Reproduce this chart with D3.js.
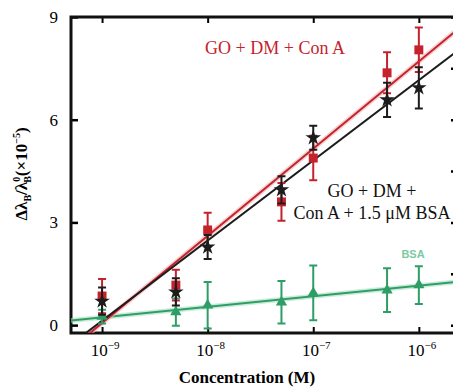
<!DOCTYPE html>
<html>
<head>
<meta charset="utf-8">
<script src="https://cdn.jsdelivr.net/npm/d3@7"></script>
<style>
  body { margin: 0; background: #fff; }
  svg { display: block; }
</style>
</head>
<body>
<div id="chart"></div>
<script>
// concentrations (M)
const conc = [1e-9, 5e-9, 1e-8, 5e-8, 1e-7, 5e-7, 1e-6];

// GO + DM + Con A
const conA = [0.85, 1.17, 2.78, 3.6, 4.88, 7.37, 8.04];
const conAErr = [0.5, 0.45, 0.5, 0.55, 0.65, 0.6, 0.65];

// GO + DM + Con A + 1.5 uM BSA
const conABsa = [0.7, 0.97, 2.28, 3.95, 5.47, 6.58, 6.93];
const conABsaErr = [0.4, 0.4, 0.35, 0.4, 0.35, 0.5, 0.6];

// BSA
const bsa = [0.25, 0.38, 0.58, 0.67, 0.94, 1.02, 1.17];
const bsaErr = [0.2, 0.4, 0.68, 0.62, 0.8, 0.64, 0.55];

const xTicks = [1e-9, 1e-8, 1e-7, 1e-6];
const xTickExp = ["\u22129", "\u22128", "\u22127", "\u22126"];
const yTicks = [0, 3, 6, 9];
const yMinor = [1.5, 4.5, 7.5];

const width = 453, height = 387;
const margin = {top: 17, right: -2, bottom: 54, left: 71};
const serif = "Liberation Serif";

const x = d3.scaleLog()
    .domain([5.08e-10, 2.2e-6])
    .range([margin.left, width - margin.right]);

const y = d3.scaleLinear()
    .domain([-0.23, 9])
    .range([height - margin.bottom, margin.top]);

const svg = d3.select("#chart").append("svg")
    .attr("width", width)
    .attr("height", height);

svg.append("defs").append("clipPath")
    .attr("id", "plot")
  .append("rect")
    .attr("x", margin.left)
    .attr("y", margin.top)
    .attr("width", x.range()[1] - margin.left)
    .attr("height", y.range()[0] - margin.top);

// minor log ticks
const minorX = [];
for (let e = -10; e <= -6; e++) {
  for (let m = 2; m <= 9; m++) {
    const v = m * Math.pow(10, e);
    if (v > x.domain()[0] && v < x.domain()[1]) minorX.push(v);
  }
}

const gx = svg.append("g")
    .attr("transform", `translate(0,${y.range()[0]})`);
gx.call(d3.axisBottom(x).tickValues(minorX).tickSize(-3).tickFormat(""));
gx.call(d3.axisBottom(x).tickValues(xTicks).tickSize(-6).tickFormat(""));
gx.selectAll(".domain").remove();
gx.selectAll("line").attr("stroke", "#000").attr("stroke-width", 2);

const gxTop = svg.append("g")
    .attr("transform", `translate(0,${margin.top})`);
gxTop.call(d3.axisTop(x).tickValues(minorX).tickSize(-3).tickFormat(""));
gxTop.call(d3.axisTop(x).tickValues(xTicks).tickSize(-6).tickFormat(""));
gxTop.selectAll(".domain").remove();
gxTop.selectAll("line").attr("stroke", "#000").attr("stroke-width", 2);

// x tick labels with superscripts
const xl = svg.append("g").selectAll("text")
  .data(xTicks)
  .join("text")
    .attr("x", d => x(d) + 3)
    .attr("y", 356)
    .attr("text-anchor", "middle")
    .attr("font-family", serif)
    .attr("font-size", 17);
xl.append("tspan").text("10");
xl.append("tspan")
    .attr("dy", -7)
    .attr("font-size", 11)
    .text((d, i) => xTickExp[i]);

const gy = svg.append("g")
    .attr("transform", `translate(${margin.left},0)`);
gy.call(d3.axisLeft(y).tickValues(yMinor).tickSize(-4).tickFormat(""));
gy.call(d3.axisLeft(y).tickValues(yTicks).tickSize(-7).tickFormat(""));
gy.selectAll(".domain").remove();
gy.selectAll("line").attr("stroke", "#000").attr("stroke-width", 2.5);

const gyR = svg.append("g")
    .attr("transform", `translate(${x.range()[1]},0)`);
gyR.call(d3.axisRight(y).tickValues(yTicks.concat(yMinor)).tickSize(-4).tickFormat(""));
gyR.selectAll(".domain").remove();
gyR.selectAll("line").attr("stroke", "#000").attr("stroke-width", 2.5);

svg.append("g").selectAll("text")
  .data(yTicks)
  .join("text")
    .attr("x", 58)
    .attr("y", d => y(d) + 6)
    .attr("text-anchor", "end")
    .attr("font-family", serif)
    .attr("font-size", 17)
    .text(d => d);

// frame
svg.append("rect")
    .attr("x", margin.left)
    .attr("y", margin.top)
    .attr("width", x.range()[1] - margin.left)
    .attr("height", y.range()[0] - margin.top)
    .attr("fill", "none")
    .attr("stroke", "#111")
    .attr("stroke-width", 3);

// least squares fit against log10(conc)
function fit(vals) {
  const u = conc.map(Math.log10);
  const mu = d3.mean(u), mv = d3.mean(vals);
  const b = d3.sum(u, (d, i) => (d - mu) * (vals[i] - mv)) / d3.sum(u, d => (d - mu) ** 2);
  const a = mv - b * mu;
  return x.domain().map(c => [c, a + b * Math.log10(c)]);
}

const line = d3.line()
    .x(d => x(d[0]))
    .y(d => y(d[1]));

const plot = svg.append("g").attr("clip-path", "url(#plot)");

const series = [
  {vals: bsa, err: bsaErr, color: "#2f9e66", halo: "#a8e0c2", sym: d3.symbolTriangle, size: 55},
  {vals: conA, err: conAErr, color: "#c4222c", halo: "#f0b4b4", sym: d3.symbolSquare, size: 80},
  {vals: conABsa, err: conABsaErr, color: "#1c1c1c", halo: null, sym: d3.symbolStar, size: 75}
];

series.forEach(s => {
  if (s.halo) {
    plot.append("path")
        .attr("d", line(fit(s.vals)))
        .attr("fill", "none")
        .attr("stroke", s.halo)
        .attr("stroke-opacity", 0.6)
        .attr("stroke-width", 5);
  }
  plot.append("path")
      .attr("d", line(fit(s.vals)))
      .attr("fill", "none")
      .attr("stroke", s.color)
      .attr("stroke-width", 2);
});

series.forEach(s => {
  const g = plot.append("g")
      .attr("stroke", s.color)
      .attr("fill", s.color);
  const pts = conc.map((c, i) => ({c, v: s.vals[i], e: s.err[i]}));
  g.selectAll(".bar")
    .data(pts)
    .join("path")
      .attr("fill", "none")
      .attr("stroke-width", 2)
      .attr("d", d => {
        const cx = x(d.c), y0 = y(d.v - d.e), y1 = y(d.v + d.e);
        return `M${cx},${y0}V${y1}M${cx - 4},${y0}H${cx + 4}M${cx - 4},${y1}H${cx + 4}`;
      });
  g.selectAll(".mark")
    .data(pts)
    .join("path")
      .attr("stroke", "none")
      .attr("transform", d => `translate(${x(d.c)},${y(d.v)})`)
      .attr("d", d3.symbol(s.sym, s.size));
});

// annotations
svg.append("text")
    .attr("x", 275)
    .attr("y", 54)
    .attr("text-anchor", "middle")
    .attr("font-family", serif)
    .attr("font-size", 18)
    .attr("fill", "#c4222c")
    .text("GO + DM + Con A");

svg.append("text")
    .attr("x", 372)
    .attr("y", 197)
    .attr("text-anchor", "middle")
    .attr("font-family", serif)
    .attr("font-size", 18)
    .attr("fill", "#111")
    .text("GO + DM +");

svg.append("text")
    .attr("x", 372)
    .attr("y", 219)
    .attr("text-anchor", "middle")
    .attr("font-family", serif)
    .attr("font-size", 18)
    .attr("fill", "#111")
    .text("Con A + 1.5 \u03bcM BSA");

svg.append("text")
    .attr("x", 413)
    .attr("y", 258)
    .attr("text-anchor", "middle")
    .attr("font-family", "Liberation Sans")
    .attr("font-size", 11)
    .attr("font-weight", "bold")
    .attr("fill", "#7cc9a0")
    .text("BSA");

// axis titles
svg.append("text")
    .attr("x", 247)
    .attr("y", 383)
    .attr("text-anchor", "middle")
    .attr("font-family", serif)
    .attr("font-size", 17)
    .attr("font-weight", "bold")
    .text("Concentration (M)");

const yt = svg.append("text")
    .attr("transform", "translate(27,174) rotate(-90)")
    .attr("text-anchor", "middle")
    .attr("font-family", serif)
    .attr("font-size", 17)
    .attr("font-weight", "bold");
yt.append("tspan").text("\u0394\u03bb");
yt.append("tspan").attr("dy", 4).attr("font-size", 10).text("B");
yt.append("tspan").attr("dy", -4).text("/\u03bb");
yt.append("tspan").attr("dy", -7).attr("font-size", 10).text("0");
yt.append("tspan").attr("dx", -6).attr("dy", 11).attr("font-size", 10).text("B");
yt.append("tspan").attr("dy", -4).text("(\u00d710");
yt.append("tspan").attr("dy", -7).attr("font-size", 10).text("\u22125");
yt.append("tspan").attr("dy", 7).text(")");
</script>
</body>
</html>
